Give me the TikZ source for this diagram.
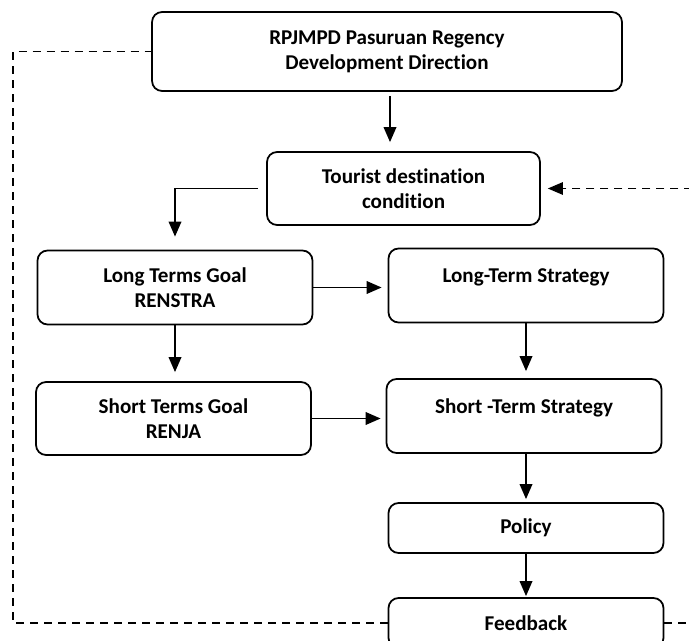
\documentclass[tikz,border=0pt]{standalone}
\usepackage{fontspec}
\setmainfont{Carlito}[Ligatures=NoCommon]
\usetikzlibrary{arrows.meta, positioning, calc}

\begin{document}
\begin{tikzpicture}[
    x=0.02cm, y=-0.02cm,
    font=\fontsize{12}{14.4}\selectfont\bfseries,
    box/.style={rectangle, draw=black, line width=1pt, fill=white, rounded corners=2mm, inner sep=0pt, align=center, minimum width=5.5cm, minimum height=1.48cm},
    arr/.style={line width=1.1pt, -{Triangle[length=3mm, width=2.5mm]}},
    fb/.style={line width=0.7pt, dash pattern=on 1.6mm off 1.2mm},
]
\useasboundingbox (0,0) rectangle (689,641);
\clip (0,0) rectangle (689,641);

% Top
\node[box, minimum width=9.4cm, minimum height=1.58cm] (rpjmpd) at (387,51.5) {RPJMPD Pasuruan Regency\\Development Direction};
\node[box, minimum width=5.46cm, minimum height=1.46cm] (tourist) at (403.5,188.5) {Tourist destination\\condition};

% Goals
\node[box] (longgoal) at (175,287.5) {Long Terms Goal\\RENSTRA};
\node[box, minimum height=1.46cm] (shortgoal) at (173.5,418.5) {Short Terms Goal\\RENJA};

% Strategies
\node[box, text depth=0.4cm] (longstrat) at (526,285.5) {Long-Term Strategy};
\node[box, text depth=0.4cm] (shortstrat) at (524,416) {Short -Term Strategy};

% Policy and feedback
\node[box, minimum height=1cm] (policy) at (526,528) {Policy};
\node[box, minimum height=1cm] (feedback) at (526,623) {Feedback};

% Edges
\coordinate (down) at ($(rpjmpd.south)+(3,0)$);
\draw[arr, shorten <=0.08cm, shorten >=0.18cm] (down) -- (down |- tourist.north);
\draw[arr, shorten <=0.16cm, shorten >=0.26cm] (tourist.west) -| (longgoal.north);
\draw[arr, shorten >=0.12cm] (longgoal.east) -- (longgoal.east -| longstrat.west);
\draw[arr, shorten >=0.18cm] (longgoal.south) -- (shortgoal.north -| longgoal.south);
\draw[arr, shorten >=0.14cm] (longstrat.south) -- (shortstrat.north -| longstrat.south);
\draw[arr, shorten >=0.1cm] (shortgoal.east) -- (shortgoal.east -| shortstrat.west);
\draw[arr, shorten >=0.06cm] (shortstrat.south -| policy.north) -- (policy.north);
\draw[arr, shorten >=0.02cm] (policy.south) -- (feedback.north);

% Feedback loops
\draw[fb] (feedback.west) -- (13,623) |- (rpjmpd.west);
\draw[fb, -{Triangle[length=3mm, width=2.5mm]}, shorten >=0.14cm] (feedback.east) -- (720,623) |- (tourist.east);

\end{tikzpicture}
\end{document}
